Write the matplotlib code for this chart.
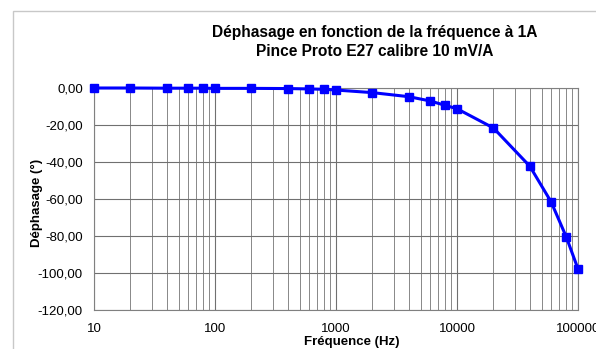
import numpy as np
import matplotlib.pyplot as plt
from matplotlib.patches import Rectangle
from matplotlib.ticker import FixedLocator, FuncFormatter, NullFormatter

plt.rcParams['font.family'] = ['Liberation Sans', 'DejaVu Sans']

freq = [10, 20, 40, 60, 80, 100, 200, 400, 600, 800, 1000, 2000, 4000,
        6000, 8000, 10000, 20000, 40000, 60000, 80000, 100000]
phase = [0.0, 0.0, -0.1, -0.1, -0.1, -0.2, -0.2, -0.3, -0.5, -0.7, -1.1,
         -2.5, -4.7, -7.0, -9.4, -11.2, -21.6, -42.3, -61.6, -80.5, -97.8]
yticks = [0, -20, -40, -60, -80, -100, -120]

W, H = 596, 349
fig = plt.figure(figsize=(W / 100, H / 100), dpi=100)

# chart area frame (cut by the image edges)
fig.patches.append(Rectangle((13 / W, -0.1), 1.2, (H - 11) / H + 0.1,
                             transform=fig.transFigure, fill=False,
                             edgecolor='#c8c8c8', lw=1.0))

ax = fig.add_axes([94 / W, 1 - 310 / H, (578 - 94) / W, (310 - 88) / H])
ax.plot(freq, phase, color='#0000ff', lw=2.2, marker='s', ms=5.5,
        mec='#0000ff', mfc='#0000ff', clip_on=False, zorder=3)

ax.set_xscale('log')
ax.set_xlim(10, 100000)
ax.set_ylim(-120, 0)
ax.set_yticks(yticks)
ax.yaxis.set_major_formatter(FuncFormatter(lambda v, p: f'{v:.2f}'.replace('.', ',')))
ax.xaxis.set_major_formatter(FuncFormatter(lambda v, p: f'{int(v)}'))
ax.xaxis.set_minor_formatter(NullFormatter())

ax.grid(True, which='major', color='#707070', lw=0.8)
ax.grid(True, which='minor', axis='x', color='#888888', lw=0.7)
ax.tick_params(which='both', length=0, labelsize=9.5, colors='#000000')
ax.tick_params(axis='y', pad=8)
ax.tick_params(axis='x', pad=9)
for s in ax.spines.values():
    s.set_color('#808080')
    s.set_linewidth(0.8)

fig.text(352 / W, 1 - 342 / H, 'Fréquence (Hz)', ha='center', va='center',
         fontsize=9.5, fontweight='bold')
fig.text(37 / W, 1 - 203 / H, 'Déphasage (°)', ha='center', va='center',
         rotation=90, fontsize=9.5, fontweight='bold')

fig.text(375 / W, 1 - 33 / H, 'Déphasage en fonction de la fréquence à 1A',
         ha='center', va='center', fontsize=11.2, fontweight='bold')
fig.text(375 / W, 1 - 52 / H, 'Pince Proto E27 calibre 10 mV/A',
         ha='center', va='center', fontsize=11.2, fontweight='bold')

fig.savefig('out.png', dpi=100)
